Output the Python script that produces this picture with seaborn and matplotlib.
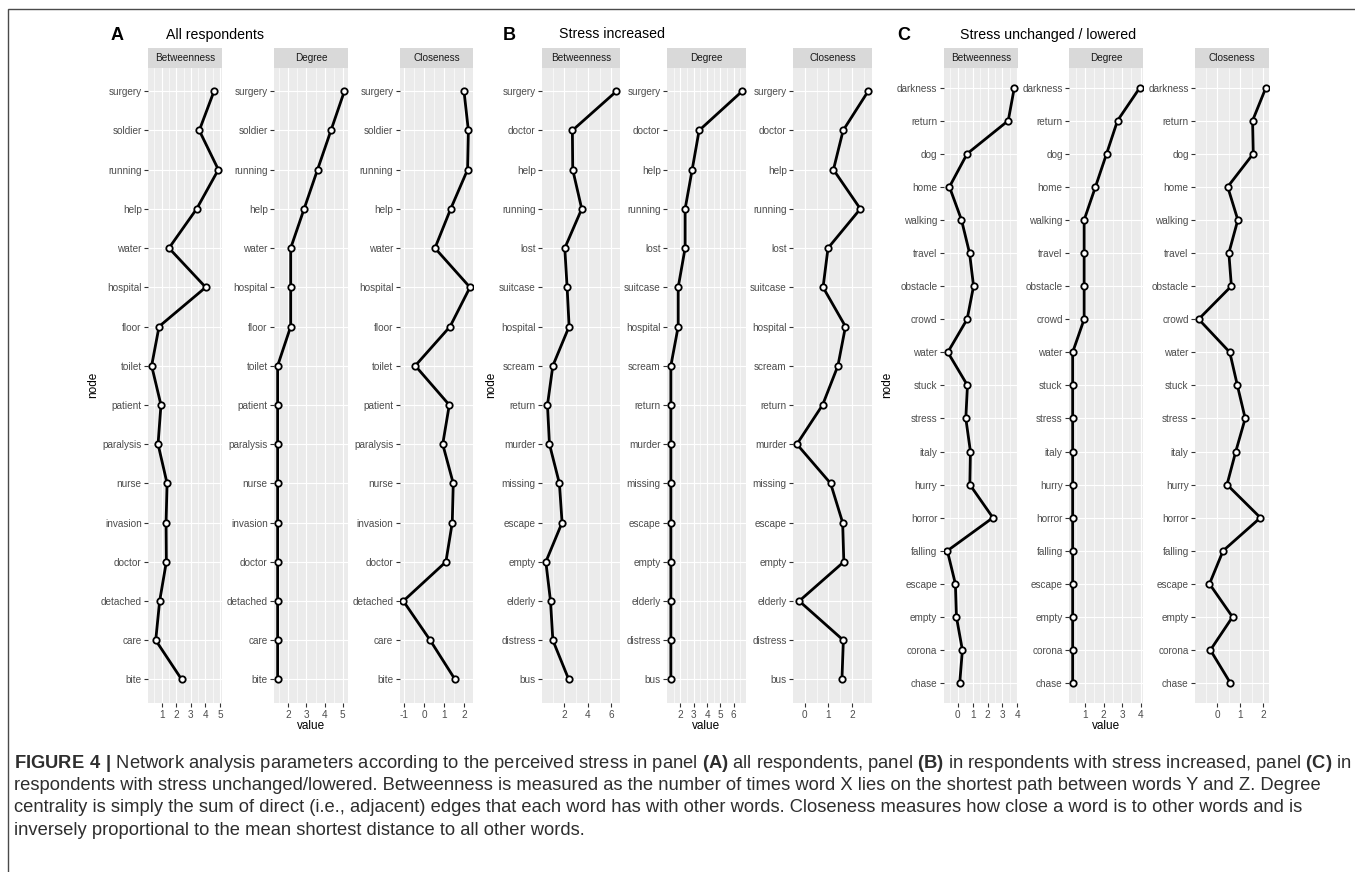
import numpy as np
import pandas as pd
import matplotlib
matplotlib.use("Agg")
import matplotlib.pyplot as plt
from matplotlib.patches import Rectangle
import seaborn as sns

# ---------------- data ----------------
nodes_A = ["surgery", "soldier", "running", "help", "water", "hospital", "floor", "toilet",
           "patient", "paralysis", "nurse", "invasion", "doctor", "detached", "care", "bite"]
betweenness_A = [4.59, 3.58, 4.89, 3.40, 1.50, 4.02, 0.82, 0.31, 0.95, 0.75, 1.37, 1.30, 1.32, 0.86, 0.59, 2.37]
degree_A = [5.09, 4.35, 3.61, 2.87, 2.13, 2.13, 2.13, 1.41, 1.41, 1.41, 1.41, 1.41, 1.41, 1.41, 1.41, 1.41]
closeness_A = [2.00, 2.22, 2.18, 1.33, 0.54, 2.30, 1.30, -0.45, 1.26, 0.93, 1.46, 1.41, 1.09, -1.05, 0.30, 1.55]

nodes_B = ["surgery", "doctor", "help", "running", "lost", "suitcase", "hospital", "scream",
           "return", "murder", "missing", "escape", "empty", "elderly", "distress", "bus"]
betweenness_B = [6.45, 2.68, 2.71, 3.48, 2.03, 2.23, 2.40, 1.01, 0.55, 0.72, 1.57, 1.80, 0.41, 0.81, 1.01, 2.37]
degree_B = [6.63, 3.40, 2.88, 2.35, 2.35, 1.83, 1.83, 1.28, 1.28, 1.28, 1.28, 1.28, 1.28, 1.28, 1.28, 1.28]
closeness_B = [2.68, 1.62, 1.21, 2.35, 0.98, 0.77, 1.72, 1.40, 0.75, -0.34, 1.09, 1.60, 1.65, -0.24, 1.63, 1.57]

nodes_C = ["darkness", "return", "dog", "home", "walking", "travel", "obstacle", "crowd", "water",
           "stuck", "stress", "italy", "hurry", "horror", "falling", "escape", "empty", "corona", "chase"]
betweenness_C = [3.80, 3.39, 0.63, -0.56, 0.25, 0.79, 1.06, 0.63, -0.67, 0.65, 0.54, 0.85, 0.81, 2.36,
                 -0.70, -0.16, -0.09, 0.31, 0.13]
degree_C = [3.96, 2.75, 2.16, 1.56, 0.95, 0.95, 0.95, 0.95, 0.33, 0.33, 0.33, 0.33, 0.33, 0.33,
            0.33, 0.33, 0.33, 0.33, 0.33]
closeness_C = [2.12, 1.54, 1.57, 0.46, 0.90, 0.51, 0.62, -0.80, 0.55, 0.88, 1.22, 0.81, 0.43, 1.88,
               0.26, -0.33, 0.67, -0.29, 0.58]

measures = ["Betweenness", "Degree", "Closeness"]
panel_letters = ["A", "B", "C"]
panel_titles = ["All respondents", "Stress increased", "Stress unchanged / lowered"]

ticks_A = [[1, 2, 3, 4, 5], [2, 3, 4, 5], [-1, 0, 1, 2]]
ticks_B = [[2, 4, 6], [2, 3, 4, 5, 6], [0, 1, 2]]
ticks_C = [[0, 1, 2, 3, 4], [1, 2, 3, 4], [0, 1, 2]]

caption_lines = [
    r"$\mathbf{FIGURE\ 4\ |}$ Network analysis parameters according to the perceived stress in panel "
    r"$\mathbf{(A)}$ all respondents, panel $\mathbf{(B)}$ in respondents with stress increased, panel "
    r"$\mathbf{(C)}$ in",
    "respondents with stress unchanged/lowered. Betweenness is measured as the number of times word X "
    "lies on the shortest path between words Y and Z. Degree",
    "centrality is simply the sum of direct (i.e., adjacent) edges that each word has with other words. "
    "Closeness measures how close a word is to other words and is",
    "inversely proportional to the mean shortest distance to all other words.",
]

panels = [
    (nodes_A, [betweenness_A, degree_A, closeness_A], ticks_A),
    (nodes_B, [betweenness_B, degree_B, closeness_B], ticks_B),
    (nodes_C, [betweenness_C, degree_C, closeness_C], ticks_C),
]

# ---------------- style ----------------
sns.set_theme(style="white")
plt.rcParams["font.family"] = ["Liberation Sans", "DejaVu Sans"]
plt.rcParams["mathtext.fontset"] = "custom"
plt.rcParams["mathtext.rm"] = "Liberation Sans"
plt.rcParams["mathtext.bf"] = "Liberation Sans:bold"

W, H = 1355, 872
fig = plt.figure(figsize=(W / 100, H / 100), dpi=100)
fig.patch.set_facecolor("white")

# outer frame
fig.patches.append(Rectangle((8 / W, -0.05), 1.05, 1 - 9 / H + 0.05, transform=fig.transFigure,
                             facecolor="none", edgecolor="#4a4a4a", lw=1.0))

ax_top, ax_bot = 67.7, 703.0
strip_h = 19.4
facet_x = [
    [(148.3, 221.7), (274.3, 347.7), (400.0, 473.3)],
    [(542.3, 620.0), (667.3, 745.7), (793.3, 871.7)],
    [(944.0, 1017.7), (1069.3, 1143.3), (1195.3, 1269.3)],
]
letter_x = [111, 503, 897]
title_x = [166, 559, 960]
node_x = [93, 491, 887]

tick_col = "#4D4D4D"
for p, (nodes, series, ticks) in enumerate(panels):
    n = len(nodes)
    for m, (vals, tk) in enumerate(zip(series, ticks)):
        l, r = facet_x[p][m]
        ax = fig.add_axes([l / W, 1 - ax_bot / H, (r - l) / W, (ax_bot - ax_top) / H])
        ax.set_facecolor("#EBEBEB")
        df = pd.DataFrame({"value": vals, "node": nodes})
        sns.lineplot(data=df, x="value", y="node", sort=False, estimator=None, ax=ax,
                     color="black", lw=2.0, marker="o", markersize=4.6,
                     markerfacecolor="white", markeredgecolor="black", markeredgewidth=1.3)
        ln = ax.lines[-1]
        ln.set_markerfacecolor("white")
        ln.set_markeredgecolor("black")
        ln.set_zorder(5)
        vmin, vmax = min(vals), max(vals)
        rng = vmax - vmin
        ax.set_xticks(tk)
        ax.set_xticklabels([str(t) for t in tk])
        step = tk[1] - tk[0]
        minors = np.arange(tk[0] - step * 3 - step / 2, tk[-1] + step * 3, step)
        ax.set_xticks(minors, minor=True)
        ax.set_xlim(vmin - 0.05 * rng, vmax + 0.05 * rng)
        ax.set_yticks(range(n))
        ax.set_yticklabels(nodes)
        ax.set_ylim(n - 1 + 0.6, -0.6)
        ax.grid(which="major", color="white", lw=0.85)
        ax.grid(which="minor", axis="x", color="white", lw=0.45)
        ax.set_axisbelow(True)
        for s in ax.spines.values():
            s.set_visible(False)
        ax.tick_params(which="major", length=3.0, width=0.8, color="#333333", labelcolor=tick_col,
                       labelsize=7.2, pad=1.8, left=True, bottom=True)
        ax.tick_params(which="minor", length=0, bottom=False, left=False)
        ax.set_xlabel("")
        ax.set_ylabel("")
        # strip
        sh = strip_h / (ax_bot - ax_top)
        ax.add_patch(Rectangle((0, 1), 1, sh, transform=ax.transAxes, clip_on=False,
                               facecolor="#D9D9D9", edgecolor="none"))
        ax.text(0.5, 1 + sh / 2, measures[m], transform=ax.transAxes, ha="center", va="center",
                fontsize=7.2, color="#1A1A1A")
    # panel letter + title
    fig.text(letter_x[p] / W, 1 - 35 / H, panel_letters[p], fontsize=13, fontweight="bold",
             ha="left", va="center", color="black")
    fig.text(title_x[p] / W, 1 - 34.5 / H, panel_titles[p], fontsize=10.2, ha="left", va="center",
             color="black")
    fig.text(node_x[p] / W, 1 - (ax_top + ax_bot) / 2 / H, "node", rotation=90, fontsize=8.5,
             ha="center", va="center", color="black")
    xc = sum(facet_x[p][1]) / 2
    fig.text(xc / W, 1 - 726 / H, "value", fontsize=8.5, ha="center", va="center", color="black")

# caption
renderer = fig.canvas.get_renderer()
baselines = [768, 790, 812, 835]
cap_col = "#2e2e2e"
texts = []
for line, yb in zip(caption_lines, baselines):
    t = fig.text(14 / W, 1 - yb / H, line, fontsize=12, ha="left", va="baseline", color=cap_col)
    texts.append(t)
w0 = texts[0].get_window_extent(renderer).width
size = 12 * 1334 / w0
for t in texts:
    t.set_fontsize(size)

fig.savefig("out.png", dpi=100, facecolor="white")
